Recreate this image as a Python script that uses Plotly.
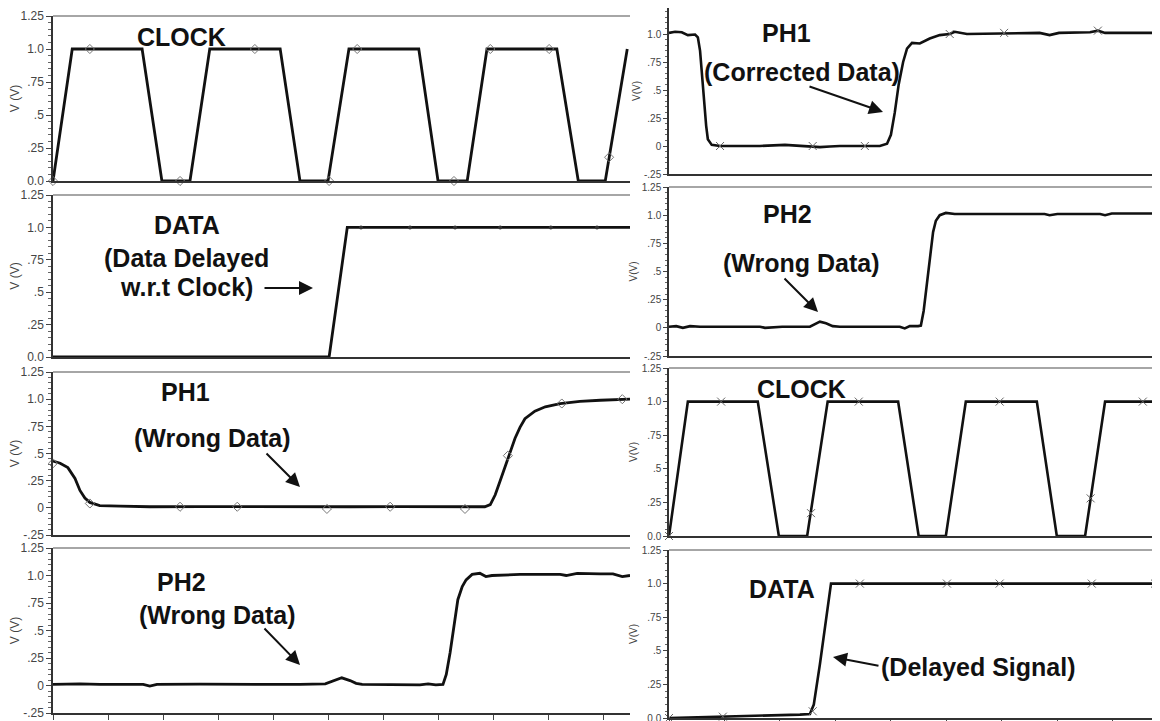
import plotly.graph_objects as go

W, H = 1160, 721
OFF = 8  # default page body margin in the browser

# ---------------- DATA (time in ns, voltage in V) ----------------
# Left column
clk_l_t = [0.0, 0.35, 1.62, 1.98, 2.49, 2.85, 4.13, 4.49, 5.0, 5.38, 6.65, 7.0, 7.53, 7.89, 9.16, 9.55, 10.04, 10.44]
clk_l_v = [0.0, 1.0, 1.0, 0.0, 0.0, 1.0, 1.0, 0.0, 0.0, 1.0, 1.0, 0.0, 0.0, 1.0, 1.0, 0.0, 0.0, 1.0]
clk_l_mt = [0.0, 0.67, 2.31, 3.67, 5.02, 5.53, 7.29, 7.95, 9.02, 10.11]
clk_l_mv = [0.0, 1.0, 0.0, 1.0, 0.0, 1.0, 0.0, 1.0, 1.0, 0.18]

data_l_t = [0.0, 5.02, 5.35, 10.49]
data_l_v = [0.0, 0.0, 1.0, 1.0]
data_l_mt = [5.6, 6.49, 7.31, 8.13, 9.05, 9.89]
data_l_mv = [1.0, 1.0, 1.0, 1.0, 1.0, 1.0]

ph1_l_t = [0.0, 0.13, 0.27, 0.4, 0.49, 0.58, 0.67, 0.85, 1.22, 1.76, 2.67, 3.58, 4.49, 5.4, 6.31, 7.22, 7.85,
           7.95, 8.04, 8.13, 8.22, 8.31, 8.4, 8.49, 8.58, 8.76, 8.95, 9.22, 9.58, 9.95, 10.31, 10.49]
ph1_l_v = [0.43, 0.41, 0.37, 0.27, 0.16, 0.09, 0.05, 0.02, 0.015, 0.01, 0.012, 0.01, 0.008, 0.01, 0.012, 0.01, 0.01,
           0.03, 0.12, 0.25, 0.38, 0.52, 0.64, 0.74, 0.82, 0.89, 0.93, 0.96, 0.98, 0.99, 1.0, 1.0]
ph1_l_mt = [0.0, 0.67, 2.31, 3.35, 4.98, 6.13, 7.49, 8.27, 9.25, 10.35]
ph1_l_mv = [0.41, 0.04, 0.01, 0.01, -0.01, 0.01, -0.01, 0.48, 0.96, 1.0]

ph2_l_t = [0.0, 0.49, 0.85, 1.64, 1.76, 1.89, 2.67, 3.58, 4.31, 4.49, 4.95, 5.13, 5.25, 5.4, 5.51, 5.62, 6.31,
           6.67, 6.82, 6.96, 7.09, 7.15, 7.22, 7.29, 7.36, 7.44, 7.51, 7.62, 7.76, 7.87, 7.98, 8.49, 9.22,
           9.33, 9.53, 9.95, 10.18, 10.35, 10.49]
ph2_l_v = [0.01, 0.015, 0.01, 0.01, -0.005, 0.01, 0.012, 0.01, 0.005, 0.01, 0.015, 0.045, 0.07, 0.045, 0.02, 0.01, 0.01,
           0.005, 0.015, 0.005, 0.01, 0.1, 0.3, 0.55, 0.78, 0.9, 0.96, 1.01, 1.02, 0.99, 1.0, 1.01, 1.01,
           1.0, 1.02, 1.015, 1.015, 0.99, 1.0]

# Right column
ph1_r_t = [0.0, 0.11, 0.23, 0.34, 0.47, 0.52, 0.56, 0.59, 0.63, 0.67, 0.7, 0.77, 0.92, 1.64, 2.09, 2.27, 2.59, 2.72,
           2.9, 3.08, 3.8, 3.93, 4.0, 4.07, 4.14, 4.22, 4.29, 4.38, 4.52, 4.7, 4.88, 5.06, 5.15, 5.28, 5.37,
           6.68, 6.86, 7.03, 7.41, 7.59, 7.73, 7.86, 8.85]
ph1_r_v = [1.01, 1.02, 1.015, 0.99, 0.995, 0.97, 0.85, 0.65, 0.4, 0.18, 0.06, 0.01, 0.0, 0.0, 0.01, 0.005, 0.0, -0.01,
           -0.005, 0.0, 0.0, 0.02, 0.1, 0.3, 0.55, 0.75, 0.87, 0.92, 0.915, 0.96, 0.99, 1.0, 1.02, 1.01, 1.0,
           1.01, 0.99, 1.01, 1.01, 1.015, 1.03, 1.01, 1.01]
ph1_r_mt = [0.92, 2.59, 3.53, 5.06, 6.04, 7.73, 8.81]
ph1_r_mv = [0.0, 0.0, 0.0, 1.0, 1.01, 1.03, 1.01]

ph2_r_t = [0.0, 0.13, 0.25, 0.38, 0.56, 0.92, 1.64, 1.73, 1.91, 2.04, 2.54, 2.63, 2.72, 2.83, 2.95, 3.08, 3.8,
           4.16, 4.25, 4.34, 4.49, 4.54, 4.59, 4.65, 4.7, 4.76, 4.81, 4.88, 4.99, 5.15, 5.96, 6.77, 6.86,
           7.0, 7.77, 7.86, 7.98, 8.85]
ph2_r_v = [0.01, 0.015, 0.0, 0.015, 0.01, 0.01, 0.01, 0.0, 0.005, 0.01, 0.01, 0.03, 0.055, 0.04, 0.015, 0.01, 0.01,
           0.01, -0.005, 0.015, 0.015, 0.02, 0.15, 0.4, 0.65, 0.85, 0.95, 1.0, 1.02, 1.01, 1.01, 1.01, 1.0,
           1.01, 1.01, 1.0, 1.015, 1.015]

clk_r_t = [0.0, 0.34, 1.6, 1.98, 2.49, 2.86, 4.13, 4.5, 4.99, 5.35, 6.63, 6.99, 7.5, 7.86, 8.85]
clk_r_v = [0.0, 1.0, 1.0, 0.0, 0.0, 1.0, 1.0, 0.0, 0.0, 1.0, 1.0, 0.0, 0.0, 1.0, 1.0]
clk_r_mt = [0.0, 0.94, 2.56, 3.42, 5.96, 7.6, 8.54]
clk_r_mv = [0.0, 1.0, 0.17, 1.0, 1.0, 0.28, 1.0]

data_r_t = [0.0, 0.56, 0.92, 1.64, 2.36, 2.54, 2.61, 2.72, 2.83, 2.92, 8.85]
data_r_v = [0.0, 0.005, 0.01, 0.02, 0.025, 0.03, 0.1, 0.4, 0.75, 1.0, 1.0]
data_r_mt = [0.0, 0.97, 2.59, 3.44, 5.01, 5.96, 7.62, 8.76]
data_r_mv = [0.0, 0.01, 0.05, 1.0, 1.0, 1.0, 1.0, 1.0]

clk_ticks = [0.0, 0.25, 0.5, 0.75, 1.0, 1.25]
clk_ticktext = ["0.0", ".25", ".5", ".75", "1.0", "1.25"]
ph_ticks = [-0.25, 0.0, 0.25, 0.5, 0.75, 1.0, 1.25]
ph_ticktext = ["-.25", "0", ".25", ".5", ".75", "1.0", "1.25"]

# ---------------- LAYOUT (screen pixel boxes) ----------------
FONT = "Liberation Sans, Arial, sans-serif"
LX = (53, 630)
RX = (669, 1160)
L_RANGE = [0, 10.49]
R_RANGE = [0, 8.85]


def sx(x):
    return (x - OFF) / W


def sy(y):
    return 1 - (y - OFF) / H


panels = [
    dict(col="L", top=16, bot=181, kind="clk", last=False, line=(clk_l_t, clk_l_v), mk=(clk_l_mt, clk_l_mv), sym="diamond-open"),
    dict(col="L", top=195, bot=357, kind="clk", last=False, line=(data_l_t, data_l_v), mk=(data_l_mt, data_l_mv), sym="circle"),
    dict(col="L", top=372, bot=535, kind="ph", last=False, line=(ph1_l_t, ph1_l_v), mk=(ph1_l_mt, ph1_l_mv), sym="diamond-open"),
    dict(col="L", top=548, bot=713, kind="ph", last=True, line=(ph2_l_t, ph2_l_v), mk=None, sym=None),
    dict(col="R", top=6, bot=174, kind="ph", last=False, line=(ph1_r_t, ph1_r_v), mk=(ph1_r_mt, ph1_r_mv), sym="x-thin-open"),
    dict(col="R", top=187, bot=356, kind="ph", last=False, line=(ph2_r_t, ph2_r_v), mk=None, sym=None),
    dict(col="R", top=368, bot=536, kind="clk", last=False, line=(clk_r_t, clk_r_v), mk=(clk_r_mt, clk_r_mv), sym="x-thin-open"),
    dict(col="R", top=550, bot=718, kind="clk", last=True, line=(data_r_t, data_r_v), mk=(data_r_mt, data_r_mv), sym="x-thin-open"),
]

fig = go.Figure()
layout = dict(width=W, height=H, margin=dict(l=0, r=0, t=0, b=0, autoexpand=False),
              paper_bgcolor="white", plot_bgcolor="white", showlegend=False)
shapes = []

for i, p in enumerate(panels, start=1):
    xs = "" if i == 1 else str(i)
    xname, yname = "x" + xs, "y" + xs
    left = p["col"] == "L"
    xpx = LX if left else RX
    xdom = [sx(xpx[0]), sx(xpx[1])]
    ydom = [sy(p["bot"]), min(sy(p["top"]), 1.0)]
    yr = [0, 1.25] if p["kind"] == "clk" else [-0.25, 1.25]
    if p["top"] < OFF:  # panel reaching above the page area: extend range so the scale stays right
        yr = [yr[0], yr[1] - (OFF - p["top"]) * (yr[1] - yr[0]) / (p["bot"] - p["top"])]
    tv = clk_ticks if p["kind"] == "clk" else ph_ticks
    tt = clk_ticktext if p["kind"] == "clk" else ph_ticktext

    layout["xaxis" + xs] = dict(
        domain=xdom, anchor=yname, range=L_RANGE if left else R_RANGE, automargin=False,
        showgrid=False, zeroline=False, showline=True, linecolor="#333", linewidth=1.5,
        showticklabels=False, ticks="outside" if p["last"] else "", ticklen=5, tickcolor="#444",
        tick0=0, dtick=1, fixedrange=True,
    )
    layout["yaxis" + xs] = dict(
        domain=ydom, anchor=xname, range=yr, automargin=False,
        showgrid=False, zeroline=False, showline=True, linecolor="#333", linewidth=1.5,
        tickmode="array", tickvals=tv, ticktext=tt,
        ticks="outside", ticklen=5 if left else 4, tickcolor="#444",
        minor=dict(ticks="outside", ticklen=3 if left else 2, dtick=0.05, tick0=0, tickcolor="#666"),
        tickfont=dict(family=FONT, size=12 if left else 10, color="#444"),
        title=dict(text="V (V)" if left else "V(V)", standoff=4 if left else 2,
                   font=dict(family=FONT, size=12 if left else 10, color="#444")),
        fixedrange=True,
    )
    if p["top"] >= OFF:
        shapes.append(dict(type="line", xref="paper", yref="paper", x0=xdom[0], x1=xdom[1],
                           y0=ydom[1], y1=ydom[1], line=dict(color="#888", width=1.5)))

    t, v = p["line"]
    fig.add_trace(go.Scatter(x=t, y=v, mode="lines", xaxis=xname, yaxis=yname,
                             line=dict(color="#111", width=2.8 if left else 2.6),
                             cliponaxis=False, hoverinfo="skip"))
    if p["mk"] is not None:
        mt, mv = p["mk"]
        if p["sym"] == "circle":
            mk = dict(symbol="circle", size=4, color="#333")
        elif p["sym"] == "diamond-open":
            mk = dict(symbol="diamond-open", size=7, color="#777", line=dict(width=1, color="#777"))
        else:
            mk = dict(symbol="x-thin-open", size=8, color="#666", line=dict(width=1, color="#666"))
        fig.add_trace(go.Scatter(x=mt, y=mv, mode="markers", xaxis=xname, yaxis=yname,
                                 marker=mk, cliponaxis=False, hoverinfo="skip"))

ann = []
labels = [
    ("CLOCK", 181, 37), ("DATA", 187, 225), ("(Data Delayed", 186.5, 258), ("w.r.t Clock)", 186.5, 287),
    ("PH1", 185.5, 392), ("(Wrong Data)", 211.5, 438),
    ("PH2", 181, 582), ("(Wrong Data)", 216.5, 615),
    ("PH1", 786.5, 33), ("(Corrected Data)", 801.5, 72),
    ("PH2", 787.5, 214), ("(Wrong Data)", 801, 263),
    ("CLOCK", 801, 389),
    ("DATA", 782, 589), ("(Delayed Signal)", 978.5, 667),
]
for txt, x, y in labels:
    ann.append(dict(text="<b>%s</b>" % txt, x=sx(x), y=sy(y), xref="paper", yref="paper",
                    xanchor="center", yanchor="middle", showarrow=False,
                    font=dict(family=FONT, size=25, color="#111")))

arrows = [
    ((263, 288), (313, 288)),
    ((265, 452), (300, 487)),
    ((263, 627), (300, 665)),
    ((808, 86), (883, 112)),
    ((783, 277), (818, 312)),
    ((880, 666), (833, 657)),
]
for (tx, ty), (hx, hy) in arrows:
    ann.append(dict(text="", x=sx(hx), y=sy(hy), xref="paper", yref="paper",
                    ax=tx - hx, ay=ty - hy, axref="pixel", ayref="pixel",
                    showarrow=True, arrowhead=2, arrowsize=1.4, arrowwidth=2,
                    arrowcolor="#111", standoff=0, startstandoff=0))

layout["annotations"] = ann
layout["shapes"] = shapes
fig.update_layout(**layout)
fig.write_html("out.html")
